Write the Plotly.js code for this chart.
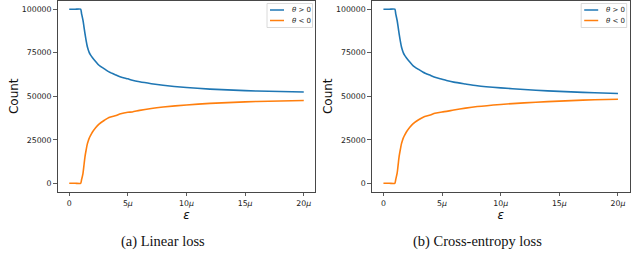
<!DOCTYPE html>
<html>
<head>
<meta charset="utf-8">
<script src="https://cdn.plot.ly/plotly-3.0.1.min.js"></script>
<style>html,body{margin:0;padding:0;background:#fff;}#chart{width:640px;height:263px;}</style>
</head>
<body>
<div id="chart"></div>
<script>
// epsilon values (in units of 1e-6)
const eps = [0, 0.5, 0.97, 1.05, 1.17, 1.25, 1.34, 1.45, 1.54, 1.62, 1.7, 1.8, 1.97, 2.25, 2.54, 3, 3.39, 4, 4.39, 5, 5.38, 6, 7, 8, 10, 12, 14, 16, 18, 20];
// (a) Linear loss
const linearPos = [100000, 100000, 100000, 97500, 93700, 90200, 86100, 81700, 78600, 76700, 75200, 73900, 72300, 70000, 67800, 65700, 64000, 62200, 61100, 60000, 59200, 58300, 57200, 56300, 55000, 54100, 53500, 53000, 52700, 52400];
const linearNeg = [0, 0, 0, 2000, 5600, 10000, 15100, 19400, 22500, 24300, 25800, 27200, 29300, 31900, 34000, 36200, 37800, 39000, 40000, 40800, 41000, 41900, 43000, 43800, 45000, 45900, 46500, 47000, 47300, 47600];
// (b) Cross-entropy loss
const cePos = [100000, 100000, 100000, 97300, 93500, 90000, 85800, 81400, 78300, 76400, 74900, 73600, 72000, 69700, 67500, 65400, 63800, 62000, 60900, 59800, 59100, 58100, 57000, 56000, 54800, 53900, 53100, 52500, 52000, 51600];
const ceNeg = [0, 0, 0, 2200, 5800, 10300, 15400, 19700, 22800, 24600, 26100, 27500, 29600, 32200, 34300, 36500, 38000, 39200, 40200, 41000, 41300, 42100, 43200, 44100, 45300, 46200, 46900, 47500, 48000, 48300];

const xTickVals = [0, 5, 10, 15, 20];
const xTickText = ['0', '5<i>μ</i>', '10<i>μ</i>', '15<i>μ</i>', '20<i>μ</i>'];
const yTickVals = [0, 25000, 50000, 75000, 100000];
const seriesNames = ['<i>θ</i> > 0', '<i>θ</i> < 0'];
const captions = ['(a) Linear loss', '(b) Cross-entropy loss'];

const blue = '#1f77b4', orange = '#ff7f0e';
const W = 640, H = 263;
const px = v => v / W, py = v => 1 - v / H;

const lw = 1.6;
const ln = c => ({color: c, width: lw, shape: 'spline', smoothing: 0.7});
const traces = [
  {x: eps, y: linearPos, name: seriesNames[0], xaxis: 'x', yaxis: 'y', mode: 'lines', line: ln(blue)},
  {x: eps, y: linearNeg, name: seriesNames[1], xaxis: 'x', yaxis: 'y', mode: 'lines', line: ln(orange)},
  {x: eps, y: cePos, name: seriesNames[0], xaxis: 'x2', yaxis: 'y2', mode: 'lines', line: ln(blue)},
  {x: eps, y: ceNeg, name: seriesNames[1], xaxis: 'x2', yaxis: 'y2', mode: 'lines', line: ln(orange)}
];

const tickFont = {family: 'DejaVu Sans', size: 7.8, color: '#222'};
const axisCommon = {
  showgrid: false, zeroline: false, showline: true, mirror: true,
  linecolor: '#333', linewidth: 0.9, ticks: 'outside', ticklen: 3.5, tickwidth: 0.8, tickcolor: '#333',
  tickfont: tickFont
};
const xax = (dom, anchor) => Object.assign({}, axisCommon, {
  domain: dom, anchor: anchor, range: [-1, 21], tickmode: 'array', tickvals: xTickVals, ticktext: xTickText,
  title: {text: '<i>ε</i>', font: {family: 'DejaVu Sans', size: 12, color: '#111'}, standoff: 3}
});
const yax = (dom, anchor) => Object.assign({}, axisCommon, {
  domain: dom, anchor: anchor, range: [-5000, 105000], tickmode: 'array', tickvals: yTickVals, tickformat: 'd',
  title: {text: 'Count', font: {family: 'DejaVu Sans', size: 12, color: '#111'}, standoff: 0}
});

const yDom = [1 - 192 / H, 1 - 0.5 / H];
const layout = {
  width: W, height: H, margin: {l: 0, r: 0, t: 0, b: 0}, showlegend: false,
  paper_bgcolor: '#fff', plot_bgcolor: '#fff',
  xaxis: xax([px(57.5), px(315.5)], 'y'),
  yaxis: yax(yDom, 'x'),
  xaxis2: xax([px(371.7), px(629.7)], 'y2'),
  yaxis2: yax(yDom, 'x2'),
  shapes: [], annotations: []
};

// captions
[[163, captions[0]], [477, captions[1]]].forEach(([cx, t]) => {
  layout.annotations.push({xref: 'paper', yref: 'paper', x: px(cx), y: py(241), xanchor: 'center', yanchor: 'middle',
    text: t, showarrow: false, font: {family: 'Liberation Serif', size: 14.5, color: '#111'}});
});

// legends (one per panel)
[0, 314.2].forEach(off => {
  layout.shapes.push({type: 'rect', xref: 'paper', yref: 'paper', x0: px(267 + off), x1: px(312.5 + off), y0: py(27.5), y1: py(3.5),
    line: {color: '#d0d0d0', width: 0.8}, fillcolor: 'rgba(255,255,255,0.85)'});
  [[10, blue, seriesNames[0]], [20.5, orange, seriesNames[1]]].forEach(([yy, c, t]) => {
    layout.shapes.push({type: 'line', xref: 'paper', yref: 'paper', x0: px(270 + off), x1: px(284 + off), y0: py(yy), y1: py(yy),
      line: {color: c, width: 1.5}});
    layout.annotations.push({xref: 'paper', yref: 'paper', x: px(289.5 + off), y: py(yy), xanchor: 'left', yanchor: 'middle',
      text: t, showarrow: false, font: {family: 'DejaVu Sans', size: 7, color: '#222'}});
  });
});

Plotly.newPlot('chart', traces, layout, {staticPlot: true, displayModeBar: false});
</script>
</body>
</html>
